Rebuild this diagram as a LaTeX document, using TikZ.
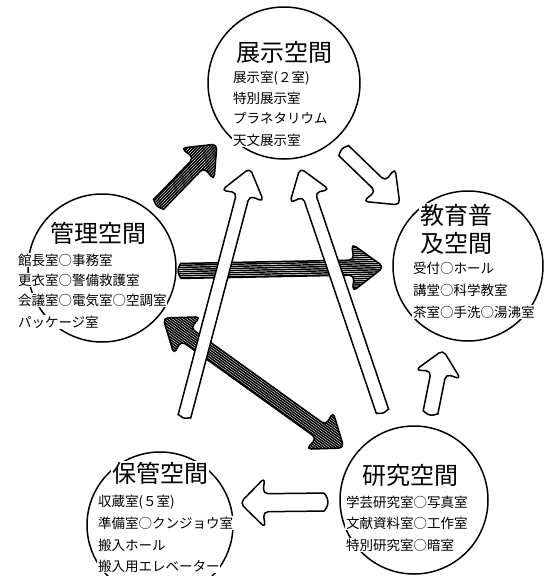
\documentclass[tikz,border=0pt]{standalone}
\usepackage{fontspec}
\newfontfamily\jp{Noto Sans CJK JP}
\usetikzlibrary{calc}
% single arrow outline in local coordinates (tail at 0, tip at \Lm)
\newcommand\SAP[1]{#1 (\Lm/2,\ww) -- (\ww,\ww) arc[start angle=90,end angle=270,radius=\ww] -- (\Lm-\hl,-\ww) -- (\Lm-\hl-\hk,-\hh) -- (\Lm,0) -- (\Lm-\hl-\hk,\hh) -- (\Lm-\hl,\ww) -- cycle;}
% double arrow outline
\newcommand\DAP[1]{#1 (\Lm/2,\ww) -- (\hl,\ww) -- (\hl+\hk,\hh) -- (0,0) -- (\hl+\hk,-\hh) -- (\hl,-\ww) -- (\Lm-\hl,-\ww) -- (\Lm-\hl-\hk,-\hh) -- (\Lm,0) -- (\Lm-\hl-\hk,\hh) -- (\Lm-\hl,\ww) -- cycle;}
\newcommand\setarrow[5]{%
  \path (#1); \pgfgetlastxy{\ax}{\ay}%
  \path (#2); \pgfgetlastxy{\bx}{\by}%
  \pgfmathsetmacro\Ang{atan2(\by-\ay,\bx-\ax)}%
  \pgfmathsetmacro\Lm{veclen(\bx-\ax,\by-\ay)}%
  \def\ww{#3}\def\hh{#4}\def\hl{#5}\def\hk{2}}
\newcommand\hatched[2]{% #1 = path macro name, #2 = from
  \begin{scope}[shift={(#2)},rotate=\Ang]
    #1{\fill[white,rounded corners=5pt]}
    \begin{scope}
      #1{\clip[rounded corners=5pt]}
      \foreach \k in {-30,-27.9,...,30} \draw[line width=1.45pt] (-2,\k) -- (\Lm+2,\k);
    \end{scope}
    #1{\draw[outl]}
  \end{scope}}
\newcommand\hollow[1]{%
  \begin{scope}[shift={(#1)},rotate=\Ang]
    \SAP{\fill[white,rounded corners=5pt]}
    \SAP{\draw[outl]}
  \end{scope}}
\tikzset{
  outl/.style={line width=1.5pt,rounded corners=5pt,line join=round},
  room/.style={draw,circle,line width=1.5pt,inner sep=0pt},
  ttl/.style={font=\jp\fontsize{24pt}{26pt}\selectfont,fill=white,inner sep=1pt},
  itm/.style={anchor=west,font=\jp\fontsize{13.5pt}{14pt}\selectfont,fill=white,inner sep=0.8pt}
}
\begin{document}
\begin{tikzpicture}[x=1pt,y=1pt]
\useasboundingbox (0,0) rectangle (550,-576);
% rooms
\node[room,minimum size=152pt] (tenji) at (284,-83) {};
\node[room,minimum size=148pt] (kanri) at (102,-268) {};
\node[room,minimum size=150pt] (kyoiku) at (468,-266) {};
\node[room,minimum size=146pt] (hokan) at (160,-525) {};
\node[room,minimum size=148pt] (kenkyu) at (414,-500) {};
% arrow end points
\coordinate (a1s) at (157,-206); \coordinate (a1e) at (217,-144);
\coordinate (a2s) at (178,-271); \coordinate (a2e) at (384,-267);
\coordinate (a3s) at (163,-318); \coordinate (a3e) at (344,-448);
\coordinate (a4s) at (342,-149); \coordinate (a4e) at (400,-205);
\coordinate (a5s) at (184,-418); \coordinate (a5e) at (250,-168);
\coordinate (a6s) at (383,-413); \coordinate (a6e) at (300,-168);
\coordinate (a7s) at (430,-415); \coordinate (a7e) at (443,-350);
\coordinate (a8s) at (328,-502); \coordinate (a8e) at (240,-503);
% hatched arrows
\setarrow{a1s}{a1e}{7}{23}{26}\hatched{\SAP}{a1s}
\setarrow{a2s}{a2e}{7.5}{24}{30}\hatched{\SAP}{a2s}
\setarrow{a3s}{a3e}{8}{23}{28}\hatched{\DAP}{a3s}
% hollow arrows
\setarrow{a4s}{a4e}{7}{23}{27}\hollow{a4s}
\setarrow{a5s}{a5e}{6.5}{22}{27}\hollow{a5s}
\setarrow{a6s}{a6e}{6.5}{21}{28}\hollow{a6s}
\setarrow{a7s}{a7e}{7.5}{23}{23}\hollow{a7s}
\setarrow{a8s}{a8e}{9}{25}{23}\hollow{a8s}
% texts: 展示空間
\node[ttl] (t1) at (284,-52) {展示空間};
\node[itm] (t1a) at (232,-78) {展示室(２室)};
\node[itm] (t1b) at (232,-98) {特別展示室};
\node[itm] (t1c) at (232,-118) {プラネタリウム};
\node[itm] (t1d) at (232,-140) {天文展示室};
% 管理空間
\node[ttl] (t2) at (98,-233) {管理空間};
\node[itm] (t2a) at (17,-260) {館長室○事務室};
\node[itm] (t2b) at (17,-280) {更衣室○警備救護室};
\node[itm] (t2c) at (17,-300) {会議室○電気室○空調室};
\node[itm] (t2d) at (17,-322) {パッケージ室};
% 教育普及空間
\node[ttl] (t3) at (456,-215) {教育普};
\node[ttl] (t3x) at (456,-243) {及空間};
\node[itm] (t3a) at (412,-268) {受付○ホール};
\node[itm] (t3b) at (412,-290) {講堂○科学教室};
\node[itm] (t3c) at (412,-312) {茶室○手洗○湯沸室};
% 保管空間
\node[ttl] (t4) at (160,-473) {保管空間};
\node[itm] (t4a) at (97,-502) {収蔵室(５室)};
\node[itm] (t4b) at (97,-523) {準備室○クンジョウ室};
\node[itm] (t4c) at (97,-545) {搬入ホール};
\node[itm] (t4d) at (97,-566) {搬入用エレベーター};
% 研究空間
\node[ttl] (t5) at (410,-475) {研究空間};
\node[itm] (t5a) at (345,-502) {学芸研究室○写真室};
\node[itm] (t5b) at (345,-523) {文献資料室○工作室};
\node[itm] (t5c) at (345,-545) {特別研究室○暗室};
\end{tikzpicture}
\end{document}
